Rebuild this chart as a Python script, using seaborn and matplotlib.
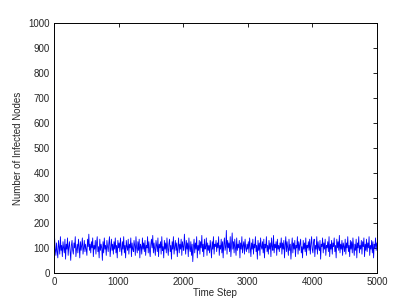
import pandas as pd
import seaborn as sns
import matplotlib.pyplot as plt

# values, one every 10 time steps after the start
start_value = [1000]
chunk_0 = [140, 95, 70, 120, 85, 60, 130, 105, 75, 145, 90, 110, 65, 125, 100, 80, 135, 55, 115, 95, 140, 70, 105, 125, 85,
           50, 110, 130, 90, 75, 120, 100, 145, 65, 95, 115, 80, 135, 105, 60, 125, 90, 110, 140, 75, 100, 130, 85, 115, 95]
chunk_1 = [70, 135, 105, 155, 90, 115, 80, 125, 100, 140, 65, 110, 95, 130, 75, 120, 145, 85, 105, 60, 135, 90, 115, 100, 50,
           125, 80, 140, 95, 110, 70, 130, 105, 85, 120, 145, 65, 100, 135, 90, 115, 75, 125, 95, 140, 80, 110, 60, 130, 100]
chunk_2 = [120, 85, 140, 100, 70, 125, 95, 145, 80, 110, 60, 130, 105, 90, 135, 75, 115, 100, 140, 65, 120, 95, 85, 130, 110,
           70, 145, 100, 80, 125, 90, 135, 60, 115, 105, 75, 140, 95, 120, 85, 130, 70, 110, 100, 145, 80, 125, 90, 65, 115]
chunk_3 = [135, 100, 150, 80, 120, 95, 70, 130, 110, 85, 140, 65, 115, 100, 125, 75, 145, 90, 105, 60, 130, 95, 120, 80, 140,
           100, 70, 115, 135, 85, 110, 55, 125, 95, 145, 75, 105, 130, 90, 120, 65, 100, 140, 80, 115, 95, 135, 70, 125, 105]
chunk_4 = [90, 155, 110, 75, 130, 95, 120, 65, 140, 100, 85, 125, 70, 115, 45, 105, 135, 80, 120, 95, 145, 60, 110, 90, 130,
           75, 125, 100, 150, 85, 115, 65, 135, 95, 105, 140, 70, 120, 90, 110, 80, 130, 100, 60, 125, 95, 145, 75, 115, 105]
chunk_5 = [130, 85, 120, 100, 145, 70, 110, 95, 135, 80, 125, 60, 115, 140, 90, 105, 170, 75, 130, 100, 120, 85, 145, 65, 110,
           160, 95, 125, 80, 135, 105, 70, 140, 90, 115, 100, 130, 60, 120, 95, 145, 80, 110, 125, 75, 135, 100, 85, 115, 95]
chunk_6 = [125, 80, 140, 105, 65, 120, 95, 135, 75, 115, 100, 145, 85, 110, 55, 130, 90, 120, 70, 140, 105, 95, 125, 80, 135,
           60, 115, 100, 145, 85, 110, 75, 130, 95, 120, 65, 140, 105, 90, 150, 80, 115, 100, 125, 70, 135, 95, 110, 85, 120]
chunk_7 = [100, 140, 75, 120, 95, 130, 60, 110, 145, 85, 125, 100, 70, 135, 90, 115, 55, 105, 140, 80, 120, 95, 130, 65, 110,
           100, 145, 75, 125, 90, 115, 135, 80, 105, 60, 130, 95, 120, 85, 140, 70, 110, 100, 125, 90, 135, 75, 115, 145, 95]
chunk_8 = [80, 120, 135, 65, 110, 95, 145, 75, 125, 100, 90, 130, 55, 115, 105, 140, 80, 120, 95, 135, 70, 110, 100, 125, 85,
           145, 65, 115, 95, 130, 75, 120, 105, 140, 85, 110, 60, 135, 100, 125, 90, 150, 80, 115, 95, 130, 70, 120, 105, 85]
chunk_9 = [135, 75, 120, 100, 145, 85, 110, 65, 130, 95, 125, 80, 140, 105, 70, 115, 90, 135, 60, 120, 100, 145, 80, 110, 95,
           130, 75, 125, 105, 140, 65, 115, 90, 135, 85, 120, 100, 145, 70, 110, 95, 130, 80, 125, 60, 115, 100, 140, 90, 120]

infected = (start_value + chunk_0 + chunk_1 + chunk_2 + chunk_3 + chunk_4
            + chunk_5 + chunk_6 + chunk_7 + chunk_8 + chunk_9)
time_step = [i * 10 for i in range(len(infected))]

df = pd.DataFrame({"Time Step": time_step, "Infected": infected})

sns.set_style("white")
plt.rcParams["font.family"] = ["Liberation Sans", "DejaVu Sans"]

fig = plt.figure(figsize=(4.15, 3.08), dpi=100)
ax = fig.add_axes([0.130, 0.114, 0.778, 0.811])

sns.lineplot(data=df, x="Time Step", y="Infected", color="#0000ff",
             linewidth=0.6, estimator=None, sort=False, ax=ax)

ax.set_xlim(0, 5000)
ax.set_ylim(0, 1000)
ax.set_xticks(range(0, 5001, 1000))
ax.set_yticks(range(0, 1001, 100))
ax.tick_params(direction="in", top=True, right=True, length=3, width=0.6,
               labelsize=7, pad=3, color="#000000")
for s in ax.spines.values():
    s.set_color("black")
    s.set_linewidth(0.7)
ax.set_xlabel("Time Step", fontsize=7, labelpad=1)
ax.set_ylabel("Number of Infected Nodes", fontsize=7, labelpad=4)

plt.savefig("out.png", dpi=100)
